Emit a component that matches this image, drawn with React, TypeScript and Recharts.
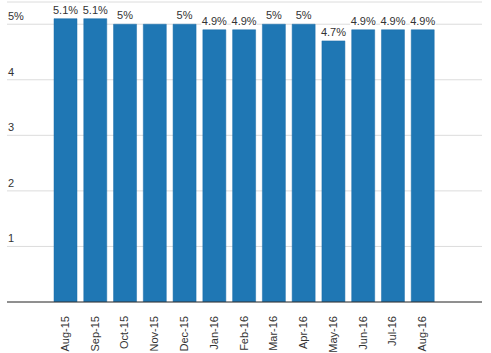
import React from "react";
import { BarChart, Bar, XAxis, YAxis, CartesianGrid, LabelList } from "recharts";

const months = ["Aug-15", "Sep-15", "Oct-15", "Nov-15", "Dec-15", "Jan-16", "Feb-16", "Mar-16", "Apr-16", "May-16", "Jun-16", "Jul-16", "Aug-16"];
const rates = [5.1, 5.1, 5.0, 5.0, 5.0, 4.9, 4.9, 5.0, 5.0, 4.7, 4.9, 4.9, 4.9];
const barLabels = ["5.1%", "5.1%", "5%", "", "5%", "4.9%", "4.9%", "5%", "5%", "4.7%", "4.9%", "4.9%", "4.9%"];
const yTicks = [0, 1, 2, 3, 4, 5];
const yTickLabels = ["", "1", "2", "3", "4", "5%"];

const data = months.map((m, i) => ({ month: m, rate: rates[i], label: barLabels[i] }));

const FONT = "'Liberation Sans', Arial, sans-serif";

const YTick = (props: any) => {
  const { y, payload } = props;
  const i = yTicks.indexOf(Number(payload?.value));
  const t = i >= 0 ? yTickLabels[i] : "";
  if (!t) return <g />;
  return (
    <text x={8} y={y - 4} fontSize={11} fill="#333" fontFamily={FONT} textAnchor="start">
      {t}
    </text>
  );
};

const XTick = (props: any) => {
  const { x, y, payload } = props;
  return (
    <text
      x={x + 3}
      y={y + 6}
      fontSize={11}
      fill="#333"
      fontFamily={FONT}
      textAnchor="end"
      transform={`rotate(-90, ${x + 3}, ${y + 6})`}
    >
      {payload.value}
    </text>
  );
};

const BarLabel = (props: any) => {
  const { x, y, width, value } = props;
  if (!value) return null;
  const cx = x + width / 2;
  const w = String(value).length * 6 + 2;
  return (
    <g>
      <rect x={cx - w / 2} y={y - 16} width={w} height={14} fill="#fff" />
      <text x={cx} y={y - 5} fontSize={11} fill="#333" fontFamily={FONT} textAnchor="middle">
        {value}
      </text>
    </g>
  );
};

export default function App() {
  return (
    <div style={{ position: "absolute", left: 0, top: 0, background: "#fff" }}>
      <BarChart width={491} height={353} data={data} margin={{ top: 2, right: 9, bottom: 1, left: 6 }} barSize={23}>
        <CartesianGrid horizontal vertical={false} stroke="#dcdcdc" />
        <XAxis
          dataKey="month"
          interval={0}
          height={50}
          tickLine={false}
          axisLine={{ stroke: "#333" }}
          tick={<XTick />}
          padding={{ left: 44, right: 44 }}
        />
        <YAxis
          width={1}
          domain={[0, 5.4]}
          ticks={yTicks}
          interval={0}
          axisLine={false}
          tickLine={false}
          tick={<YTick />}
          allowDataOverflow
        />
        <Bar dataKey="rate" fill="#1f77b4" stroke="#1a6ca8" strokeWidth={0.5} isAnimationActive={false}>
          <LabelList dataKey="label" content={<BarLabel />} />
        </Bar>
      </BarChart>
    </div>
  );
}
